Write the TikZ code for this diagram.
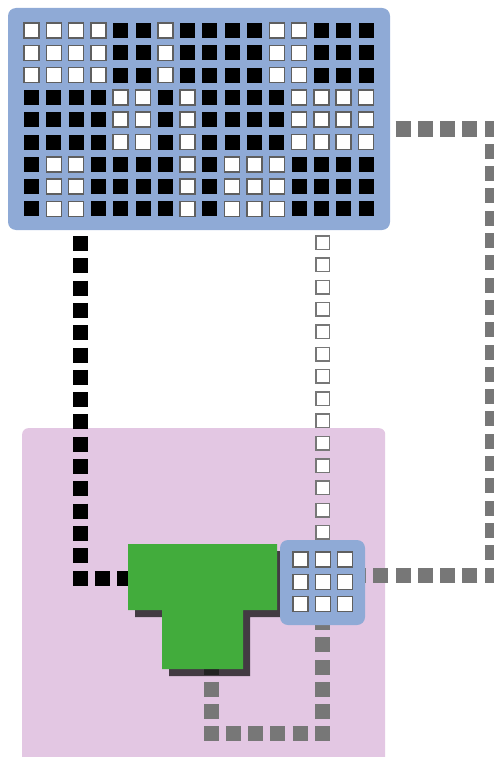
\documentclass[tikz,border=0pt]{standalone}
\usepackage{tikz}
\usetikzlibrary{positioning}
\definecolor{PanelBlue}{HTML}{8FAAD6}
\definecolor{PinkBG}{HTML}{E3C7E3}
\definecolor{TeeGreen}{HTML}{42AC3C}
\definecolor{DotGray}{HTML}{777777}
\pgfdeclarelayer{back}
\pgfdeclarelayer{wires}
\pgfsetlayers{back,wires,main}

\begin{document}
\begin{tikzpicture}[
    x=1pt, y=-1pt,
    panel/.style={rectangle,rounded corners=8pt,fill=PanelBlue,inner sep=0pt},
    bit1/.style={fill=black},
    bit0/.style={fill=white,draw=DotGray!80!black,line width=1.5pt},
    dots/.style={line width=15pt,dash pattern=on 15pt off 7.3pt},
    blackdots/.style={dots,black},
    graydots/.style={dots,DotGray},
    whitedots/.style={line width=12pt,white,dash pattern=on 12pt off 10.3pt},
    shade/.style={fill=black,opacity=.7},
  ]
  \useasboundingbox (0,0) rectangle (494,757);
  % Pink zone
  \begin{pgfonlayer}{back}
    \node[rectangle,rounded corners=6pt,fill=PinkBG,inner sep=0pt,anchor=north west,
      minimum width=363pt,minimum height=345pt] (zone) at (22,428) {};
  \end{pgfonlayer}
  % Bit panel
  \node[panel,minimum width=382pt,minimum height=222pt] (bits) at (199,119) {};
  \foreach \r/\pat in {0/{0,0,0,0,1,1,0,1,1,1,1,0,0,1,1,1},
                       3/{1,1,1,1,0,0,1,0,1,1,1,1,0,0,0,0},
                       6/{1,0,0,1,1,1,1,0,1,0,0,0,1,1,1,1}}
    \foreach \k in {0,1,2}
      \foreach \b [count=\c from 0] in \pat
        \path[bit\b] ({24+22.3*\c},{23+22.3*(\r+\k)}) rectangle ++(15,15);
  % Tee
  \path[shade,shift={(7,7)}] (128,544) -- (277,544) -- (277,610) -- (243,610)
    -- (243,669) -- (162,669) -- (162,610) -- (128,610) -- cycle;
  \path[fill=TeeGreen] (128,544) -- (277,544) -- (277,610) -- (243,610)
    -- (243,669) -- (162,669) -- (162,610) -- (128,610) -- cycle;
  \coordinate (teeW) at (128,578);
  \coordinate (teeS) at (211,659.5);
  % Hub
  \node[panel,minimum width=85pt,minimum height=85pt] (hub) at (322.5,582.5) {};
  \foreach \i in {0,1,2}
    \foreach \j in {0,1,2}
      \path[bit0] ({293+22.3*\i},{552+22.3*\j}) rectangle ++(15,15);
  % Connectors
  \coordinate (bk) at (80,236);
  \coordinate (wt) at (322.5,235);
  \coordinate (gr) at (395.5,129);
  \coordinate (gc) at (492.2,575);
  \coordinate (gb) at (322.5,733.9);
  \begin{pgfonlayer}{wires}
    \draw[blackdots] (bk) |- (teeW);
    \draw[graydots] (wt) -- (wt |- hub.north);
    \draw[whitedots] ([yshift=-1.5pt]wt) -- (wt |- hub.north);
    \draw[graydots] (gr) -| (gc) -- (gc -| hub.east);
    \draw[graydots] (teeS) |- (gb) -- (gb |- hub.south);
  \end{pgfonlayer}
\end{tikzpicture}
\end{document}
